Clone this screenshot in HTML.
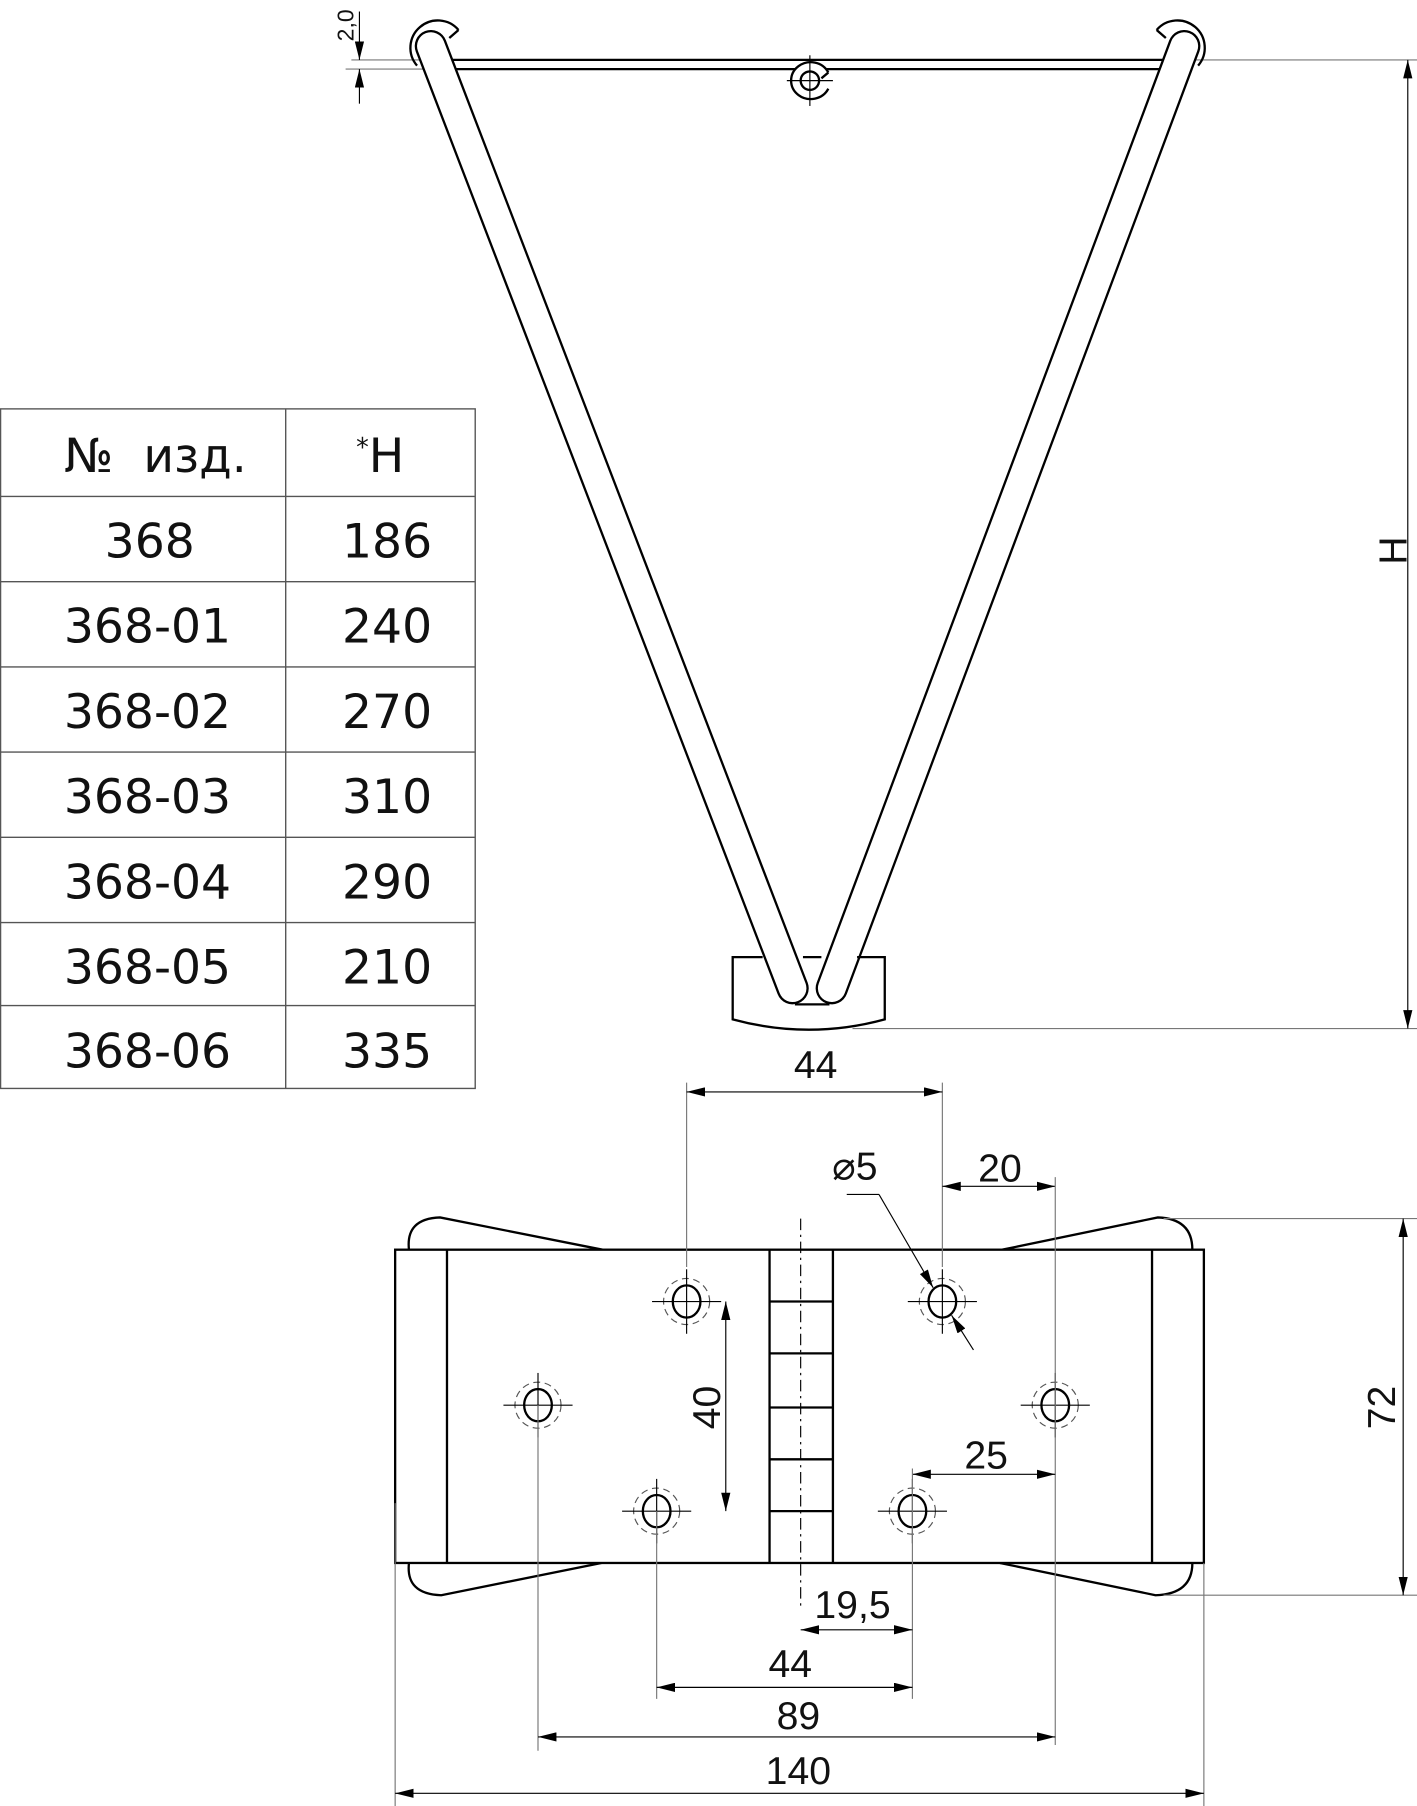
<!DOCTYPE html>
<html><head><meta charset="utf-8"><style>html,body{margin:0;padding:0;background:#fff}svg{display:block}</style></head>
<body>
<svg width="1417" height="1806" viewBox="0 0 1230 1568" preserveAspectRatio="none" xmlns="http://www.w3.org/2000/svg" font-family="Liberation Sans, DejaVu Sans, sans-serif">
<defs>
<marker id="a" viewBox="0 0 16 8" refX="16" refY="4" markerWidth="16" markerHeight="8" markerUnits="userSpaceOnUse" orient="auto-start-reverse"><path d="M0,0 L16,4 L0,8 z" fill="#000"/></marker>
</defs>
<g fill="none" stroke="#000">
<!-- table -->
<g stroke="#555" stroke-width="1.2">
<rect x="0.5" y="355" width="412" height="590"/>
<line x1="248" y1="355" x2="248" y2="945"/>
<line x1="0" y1="431" x2="412" y2="431"/><line x1="0" y1="505" x2="412" y2="505"/>
<line x1="0" y1="579" x2="412" y2="579"/><line x1="0" y1="653" x2="412" y2="653"/>
<line x1="0" y1="727" x2="412" y2="727"/><line x1="0" y1="801" x2="412" y2="801"/>
<line x1="0" y1="873" x2="412" y2="873"/>
</g>
<!-- top bar -->
<line x1="305" y1="52" x2="1230" y2="52" stroke="#777" stroke-width="1"/>
<line x1="300" y1="60" x2="410" y2="60" stroke="#777" stroke-width="1"/>
<line x1="385" y1="52" x2="1010" y2="52" stroke-width="2"/>
<line x1="385" y1="60" x2="1010" y2="60" stroke-width="2"/>
<!-- rods -->
<path d="M374,40 L688,858" stroke="#000" stroke-width="28" stroke-linecap="round"/>
<path d="M374,40 L688,858" stroke="#fff" stroke-width="24" stroke-linecap="round"/>
<path d="M1028,40 L722,858" stroke="#000" stroke-width="28" stroke-linecap="round"/>
<path d="M1028,40 L722,858" stroke="#fff" stroke-width="24" stroke-linecap="round"/>
<!-- hooks -->
<path d="M398,26 A22,22 0 1 0 362,57" stroke-width="2"/>
<line x1="398" y1="26" x2="390" y2="33" stroke-width="2"/>
<path d="M1004,26 A22,22 0 1 1 1040,57" stroke-width="2"/>
<line x1="1004" y1="26" x2="1012" y2="33" stroke-width="2"/>
<!-- small pivot -->
<path d="M719,63 A17,16 0 1 0 719,77" stroke-width="2" fill="#fff"/>
<line x1="719" y1="63" x2="713" y2="68" stroke-width="2"/>
<circle cx="703" cy="70" r="8" stroke-width="2"/>
<line x1="683" y1="70" x2="723" y2="70" stroke-width="1"/><line x1="703" y1="48" x2="703" y2="92" stroke-width="1"/>
<!-- base -->
<path d="M662,831 L636,831 L636,885 Q702,903 768,885 L768,831 L744,831" stroke-width="2"/>
<line x1="697" y1="831" x2="713" y2="831" stroke-width="2"/>
<line x1="690" y1="872" x2="720" y2="872" stroke-width="2"/>
<!-- 2,0 dim -->
<line x1="312" y1="10" x2="312" y2="52" stroke-width="1" marker-end="url(#a)"/>
<line x1="312" y1="90" x2="312" y2="60" stroke-width="1" marker-end="url(#a)"/>
<!-- H dim -->
<line x1="740" y1="893" x2="1230" y2="893" stroke="#777" stroke-width="1"/>
<line x1="1222" y1="52" x2="1222" y2="893" stroke-width="1" marker-start="url(#a)" marker-end="url(#a)"/>

<!-- bottom view -->
<path d="M355,1085 Q352,1058 382,1057 L523,1085" stroke-width="2"/>
<path d="M870,1085 L1005,1057 Q1035,1058 1035,1085" stroke-width="2"/>
<path d="M355,1357 Q352,1384 383,1385 L522,1357" stroke-width="2"/>
<path d="M868,1357 L1003,1385 Q1035,1384 1035,1357" stroke-width="2"/>
<rect x="343" y="1085" width="702" height="272" stroke-width="2" fill="#fff"/>
<line x1="388" y1="1085" x2="388" y2="1357" stroke-width="2"/>
<line x1="1000" y1="1085" x2="1000" y2="1357" stroke-width="2"/>
<line x1="668" y1="1085" x2="668" y2="1357" stroke-width="2"/>
<line x1="723" y1="1085" x2="723" y2="1357" stroke-width="2"/>
<g stroke-width="2"><line x1="668" y1="1130" x2="723" y2="1130"/><line x1="668" y1="1175" x2="723" y2="1175"/><line x1="668" y1="1222" x2="723" y2="1222"/><line x1="668" y1="1267" x2="723" y2="1267"/><line x1="668" y1="1312" x2="723" y2="1312"/></g>
<line x1="695" y1="1058" x2="695" y2="1395" stroke-width="1" stroke-dasharray="10,4,2,4"/>
<!-- holes -->
<g stroke-width="1">
<g transform="translate(596,1130)"><ellipse rx="12" ry="14" stroke-width="2"/><circle r="20" stroke-dasharray="6,4" stroke="#555"/><line x1="-30" x2="30"/><line y1="-28" y2="28"/></g>
<g transform="translate(818,1130)"><ellipse rx="12" ry="14" stroke-width="2"/><circle r="20" stroke-dasharray="6,4" stroke="#555"/><line x1="-30" x2="30"/><line y1="-28" y2="28"/></g>
<g transform="translate(467,1220)"><ellipse rx="12" ry="14" stroke-width="2"/><circle r="20" stroke-dasharray="6,4" stroke="#555"/><line x1="-30" x2="30"/><line y1="-28" y2="28"/></g>
<g transform="translate(916,1220)"><ellipse rx="12" ry="14" stroke-width="2"/><circle r="20" stroke-dasharray="6,4" stroke="#555"/><line x1="-30" x2="30"/><line y1="-28" y2="28"/></g>
<g transform="translate(570,1312)"><ellipse rx="12" ry="14" stroke-width="2"/><circle r="20" stroke-dasharray="6,4" stroke="#555"/><line x1="-30" x2="30"/><line y1="-28" y2="28"/></g>
<g transform="translate(792,1312)"><ellipse rx="12" ry="14" stroke-width="2"/><circle r="20" stroke-dasharray="6,4" stroke="#555"/><line x1="-30" x2="30"/><line y1="-28" y2="28"/></g>
</g>
<!-- dims -->
<g stroke-width="1">
<line x1="596" y1="940" x2="596" y2="1100" stroke="#777"/>
<line x1="818" y1="940" x2="818" y2="1100" stroke="#777"/>
<line x1="596" y1="948" x2="818" y2="948" marker-start="url(#a)" marker-end="url(#a)"/>
<line x1="818" y1="1030" x2="916" y2="1030" marker-start="url(#a)" marker-end="url(#a)"/>
<line x1="916" y1="1022" x2="916" y2="1515" stroke="#777"/>
<line x1="735" y1="1037" x2="763" y2="1037"/>
<line x1="763" y1="1037" x2="810" y2="1118" marker-end="url(#a)"/>
<line x1="845" y1="1172" x2="826" y2="1142" marker-end="url(#a)"/>
<line x1="1010" y1="1058" x2="1230" y2="1058" stroke="#777"/>
<line x1="1010" y1="1385" x2="1230" y2="1385" stroke="#777"/>
<line x1="1218" y1="1058" x2="1218" y2="1385" marker-start="url(#a)" marker-end="url(#a)"/>
<line x1="630" y1="1130" x2="630" y2="1312" marker-start="url(#a)" marker-end="url(#a)"/>
<line x1="792" y1="1280" x2="916" y2="1280" marker-start="url(#a)" marker-end="url(#a)"/>
<line x1="792" y1="1275" x2="792" y2="1475" stroke="#777"/>
<line x1="695" y1="1415" x2="792" y2="1415" marker-start="url(#a)" marker-end="url(#a)"/>
<line x1="570" y1="1312" x2="570" y2="1475" stroke="#777"/>
<line x1="570" y1="1465" x2="792" y2="1465" marker-start="url(#a)" marker-end="url(#a)"/>
<line x1="467" y1="1220" x2="467" y2="1520" stroke="#777"/>
<line x1="467" y1="1508" x2="916" y2="1508" marker-start="url(#a)" marker-end="url(#a)"/>
<line x1="343" y1="1305" x2="343" y2="1568" stroke="#777"/>
<line x1="1045" y1="1357" x2="1045" y2="1568" stroke="#777"/>
<line x1="343" y1="1557" x2="1045" y2="1557" marker-start="url(#a)" marker-end="url(#a)"/>
</g>
</g>
<g fill="#111" font-size="41" text-anchor="middle" font-family="DejaVu Sans, sans-serif">
<text x="135" y="410" xml:space="preserve">№  изд.</text><text x="330" y="410"><tspan font-size="22" dy="-14">*</tspan><tspan dy="14">H</tspan></text>
<text x="130" y="484">368</text><text x="336" y="484">186</text>
<text x="128" y="558">368-01</text><text x="336" y="558">240</text>
<text x="128" y="632">368-02</text><text x="336" y="632">270</text>
<text x="128" y="706">368-03</text><text x="336" y="706">310</text>
<text x="128" y="780">368-04</text><text x="336" y="780">290</text>
<text x="128" y="854">368-05</text><text x="336" y="854">210</text>
<text x="128" y="927">368-06</text><text x="336" y="927">335</text>
</g>
<g fill="#111" font-size="34" text-anchor="middle">
<text x="300" y="22" font-size="20" transform="rotate(-90 300 22)" dy="7">2,0</text>
<text x="1210" y="478" transform="rotate(-90 1210 478)" dy="11">H</text>
<text x="708" y="944" dy="-8">44</text>
<text x="742" y="1024">⌀5</text>
<text x="868" y="1026">20</text>
<text x="1200" y="1222" transform="rotate(-90 1200 1222)" dy="11">72</text>
<text x="614" y="1222" transform="rotate(-90 614 1222)" dy="11">40</text>
<text x="856" y="1275">25</text>
<text x="740" y="1405">19,5</text>
<text x="686" y="1456">44</text>
<text x="693" y="1501">89</text>
<text x="693" y="1549">140</text>
</g>
</svg>
</body></html>
